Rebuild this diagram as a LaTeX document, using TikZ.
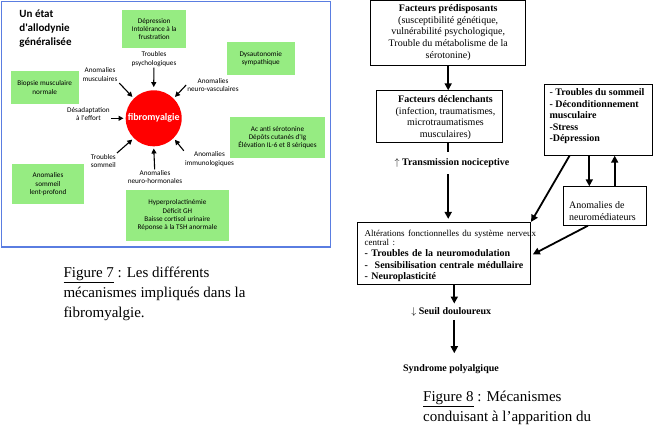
\documentclass[tikz,border=0pt]{standalone}
\usepackage{fontspec}
\setmainfont{Liberation Serif}
\newfontfamily\lsans{Carlito}
\usetikzlibrary{arrows.meta,calc}
\definecolor{lgreen}{RGB}{150,236,130}
\definecolor{fblue}{RGB}{90,125,225}
\begin{document}
\begin{tikzpicture}[x=1pt,y=-1pt,
 gbox/.style={fill=lgreen, inner sep=0, align=center, font=\lsans\fontsize{7.2}{8.3}\selectfont},
 lab/.style={inner sep=1pt, align=center, font=\lsans\fontsize{7.2}{8.2}\selectfont},
 larr/.style={-{Triangle[length=5pt,width=5pt]}, line width=1.1pt},
 rbox/.style={draw, line width=0.8pt, inner sep=0},
 rarr/.style={-{Triangle[length=7pt,width=7pt]}, line width=1.8pt},
 rtxt/.style={font=\fontsize{10}{11.6}\selectfont, align=center, inner sep=0},
]
\useasboundingbox (0,0) rectangle (659,429);
\fill[white] (0,0) rectangle (659,429);

% ---------- left figure ----------
\draw[fblue, line width=1.5pt] (1.5,1.5) rectangle (330.5,247);

\node[anchor=west, inner sep=0, align=left, font=\lsans\bfseries\fontsize{11}{14}\selectfont] (title) at (19.3,29) {Un état\\d'allodynie\\généralisée};

\node[gbox, minimum width=63.7pt, minimum height=38.3pt] (dep) at (154.2,29.2) {Dépression\\Intolérance à la\\frustration};
\node[gbox, minimum width=68pt, minimum height=32.7pt] (dys) at (260.7,58.7) {Dysautonomie\\sympathique};
\node[gbox, minimum width=68pt, minimum height=33pt] (bio) at (44.7,87.5) {Biopsie musculaire\\normale};
\node[gbox, minimum width=95pt, minimum height=41.6pt] (ac) at (277.5,137.5) {Ac anti sérotonine\\Dépôts cutanés d'Ig\\Élévation IL-6 et 8 sériques};
\node[gbox, minimum width=72.6pt, minimum height=40.3pt] (som) at (48,184.2) {Anomalies\\sommeil\\lent-profond};
\node[gbox, minimum width=102.7pt, minimum height=50.7pt] (hyp) at (177.4,215.4) {Hyperprolactinémie\\Déficit GH\\Baisse cortisol urinaire\\Réponse à la TSH anormale};

\node[circle, fill=red, minimum size=56pt, inner sep=0, text=white, font=\lsans\bfseries\fontsize{10}{12}\selectfont] (fib) at (153.7,118.3) {fibromyalgie};

\node[lab] (psy) at (154,59.2) {Troubles\\psychologiques};
\node[lab] (musc) at (100,74.5) {Anomalies\\musculaires};
\node[lab] (vasc) at (213,85) {Anomalies\\neuro-vasculaires};
\node[lab] (eff) at (88.5,113.8) {Désadaptation\\à l'effort};
\node[lab] (tsom) at (103.3,160.8) {Troubles\\sommeil};
\node[lab] (horm) at (155,177.3) {Anomalies\\neuro-hormonales};
\node[lab] (imm) at (209.5,159.2) {Anomalies\\immunologiques};

\draw[larr, shorten >=3pt] (psy) -- (fib.north);
\draw[larr, shorten >=2pt, shorten <=1pt] (musc.south east) -- (fib.135);
\draw[larr, shorten >=2pt] (vasc.west) -- (fib.45);
\draw[larr, shorten >=2pt] (eff.east |- fib.west) -- (fib.west);
\draw[larr, shorten >=2pt] (tsom.north east) -- (fib.225);
\draw[larr, shorten >=2pt] (horm) -- (fib.south);
\draw[larr, shorten >=2pt] (imm.north west) -- (fib.-45);

\node[anchor=west, inner sep=0, align=left, font=\fontsize{15}{20}\selectfont] (cap7) at (63.3,294) {\underline{Figure 7} : Les différents\\mécanismes impliqués dans la\\fibromyalgie.};

% ---------- right figure ----------
\node[rbox, rtxt, minimum width=155pt, minimum height=65pt] (pred) at (448.2,32.5) {{\bfseries Facteurs prédisposants}\\(susceptibilité génétique,\\vulnérabilité psychologique,\\Trouble du métabolisme de la\\sérotonine)};

\node[rbox, minimum width=126pt, minimum height=51.6pt] (decl) at (439.7,116.5) {};
\node[rtxt] (decltxt) at (445.5,117.5) {{\bfseries Facteurs déclenchants}\\(infection, traumatismes,\\microtraumatismes\\musculaires)};

\node[rtxt, inner ysep=6.2pt, font=\fontsize{10}{11.6}\selectfont\bfseries] (trans) at (452,163.3) {$\uparrow$ Transmission nociceptive};

\node[rbox, minimum width=173.4pt, minimum height=62pt] (alt) at (444,253.3) {};
\node[anchor=west, inner sep=0, text width=175pt, align=left] (alttxt) at (364.5,255.8) {{\fontsize{9}{9}\selectfont Altérations fonctionnelles du système nerveux\\central :\par}{\bfseries\fontsize{10}{11.3}\selectfont - Troubles de la neuromodulation\\-\ \ Sensibilisation centrale médullaire\\- Neuroplasticité\par}};

\node[rbox, minimum width=108.7pt, minimum height=71pt] (slp) at (598.3,119.8) {};
\node[anchor=west, inner sep=0, align=left, font=\bfseries\fontsize{10}{11.4}\selectfont] (slptxt) at (549.3,116.2) {{\mdseries -} Troubles du sommeil\\- Déconditionnement\\musculaire\\-Stress\\-Dépression};

\node[rbox, minimum width=82.7pt, minimum height=38.6pt] (neuro) at (604.7,206) {};
\node[anchor=west, inner sep=0, align=left, font=\fontsize{10}{11.7}\selectfont] (neurotxt) at (569,210.9) {Anomalies de\\neuromédiateurs};

\coordinate (colx) at (454.3,0);
\node[rtxt, inner ysep=3.5pt, font=\fontsize{10}{11.6}\selectfont\bfseries] (seuil) at (451.3,311.7) {$\downarrow$ Seuil douloureux};
\node[rtxt, font=\fontsize{10}{11.6}\selectfont\bfseries] (syn) at (451,369) {Syndrome polyalgique};

\draw[rarr] (pred.south) -- (pred.south |- decl.north);
\draw[line width=1.8pt] (decl.south -| pred.south) -- (trans.north -| pred.south);
\draw[rarr, shorten >=3pt] (trans.south -| pred.south) -- (alt.north -| pred.south);
\draw[rarr] (alt.south -| colx) -- (seuil.north -| colx);
\draw[rarr, shorten >=11pt] (seuil.south -| colx) -- (syn.north -| colx);

\draw[rarr] ([xshift=-9pt]slp.south) -- ([xshift=-15.4pt]neuro.north);
\draw[rarr] ([xshift=10pt]neuro.north) -- ([xshift=16.4pt]slp.south);
\draw[rarr] ([xshift=26pt]slp.south west) -- (alt.north east);
\draw[rarr, shorten >=2pt] ([xshift=25pt]neuro.south west) -- ([yshift=-2pt]alt.east);

\node[anchor=west, inner sep=0, align=left, font=\fontsize{15}{19.4}\selectfont] (cap8) at (423,408) {\underline{Figure 8} : Mécanismes\\conduisant à l'apparition du};
\end{tikzpicture}
\end{document}
